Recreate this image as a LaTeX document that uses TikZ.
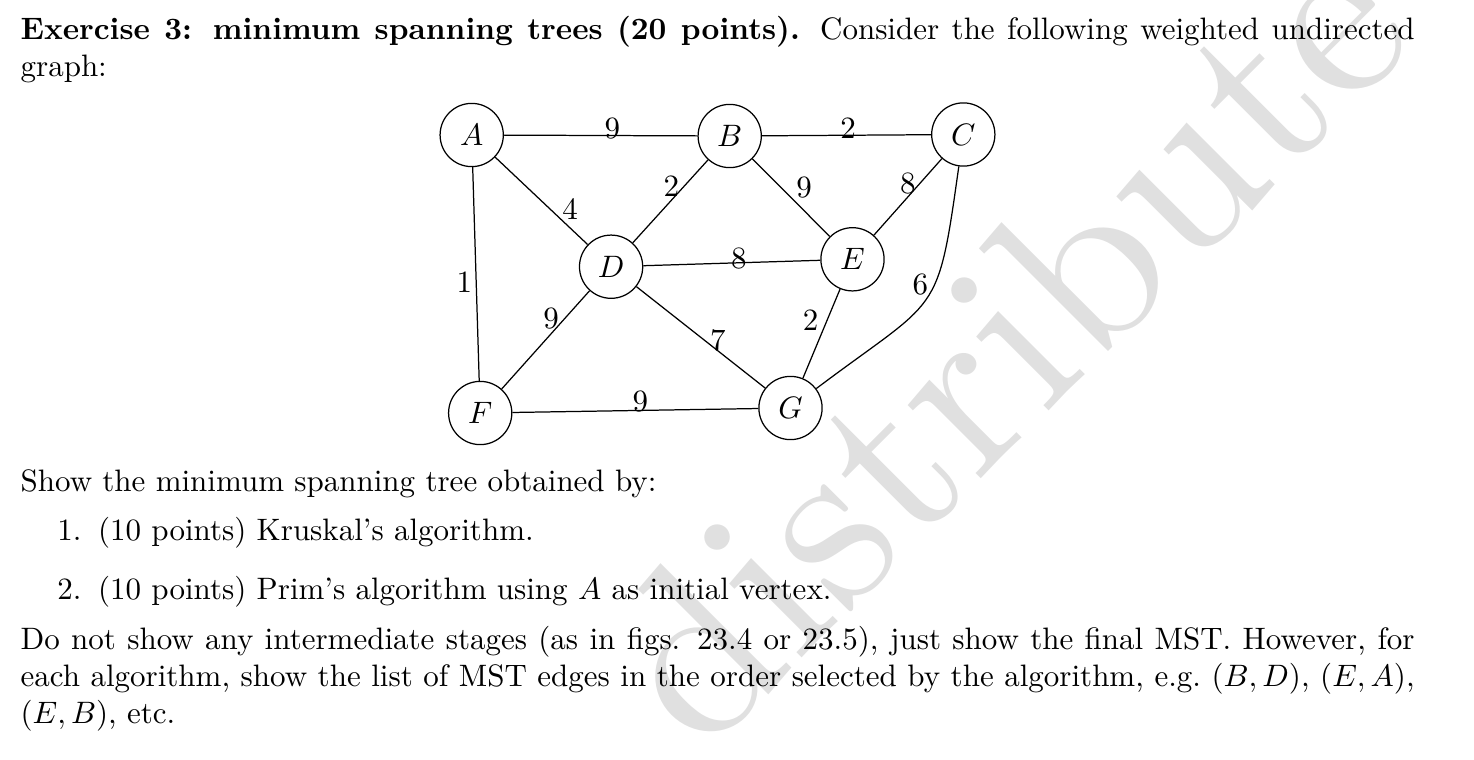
\documentclass[tikz,border=0pt]{standalone}
\usetikzlibrary{positioning}
\begin{document}
\begin{tikzpicture}[x=0.32258pt, y=-0.32258pt,
    vertex/.style={circle, draw, minimum size=20.4pt, inner sep=0pt},
    wt/.style={inner sep=0pt},
    para/.style={anchor=base west, inner sep=0pt, text width=449.7pt, align=justify},
    wmark/.style={text=black!12, rotate=45, scale=7.74, inner sep=0pt}]
  \useasboundingbox (0,0) rectangle (1474,760);
  % watermark
  \begin{scope}
    \clip (0,0) rectangle (1474,760);
    \node[wmark, anchor=base west] (wm) at (699,761) {distribute};
    \node[wmark, anchor=base east] at (wm.base west) {Do not\hspace{.42em}\null};
  \end{scope}
  % text
  \node[para] (title) at (20,39.5) {\baselineskip=14.5pt \textbf{Exercise 3: minimum spanning trees (20 points).} Consider the following weighted undirected\linebreak graph:};
  \node[para] (task) at (20,491.7) {Show the minimum spanning tree obtained by:};
  \node[anchor=base east, inner sep=0pt] (n1) at (82,540.5) {1.};
  \node[anchor=base west, inner sep=0pt] (k1) at (97.5,540.5) {(10 points) Kruskal's algorithm.};
  \node[anchor=base east, inner sep=0pt] (n2) at (82,599) {2.};
  \node[anchor=base west, inner sep=0pt] (k2) at (97.5,599) {(10 points) Prim's algorithm using $A$ as initial vertex.};
  \node[para] (note) at (20,649.3) {\baselineskip=12.5pt Do not show any intermediate stages (as in figs. 23.4 or 23.5), just show the final MST. However, for\linebreak each algorithm, show the list of MST edges in the order selected by the algorithm, e.g.\ $(B,D)$, $(E,A)$,\linebreak $(E,B)$, etc.};
  % graph
  \node[vertex] (A) at (471.7,135) {$A$};
  \node[vertex] (B) at (729.7,136) {$B$};
  \node[vertex] (C) at (963.3,134.5) {$C$};
  \node[vertex] (D) at (611.1,266.7) {$D$};
  \node[vertex] (E) at (852.5,259.3) {$E$};
  \node[vertex] (F) at (480.2,413) {$F$};
  \node[vertex] (G) at (790.5,408) {$G$};
  \draw (A) -- node[wt, pos=.56, above=-1.4pt] {9} (B);
  \draw (B) -- node[wt, pos=.51, above=-1.4pt] {2} (C);
  \draw (A) -- node[wt, pos=.72, above right] {4} (D);
  \draw (D) -- node[wt, pos=.585, above left=-1.3pt] {2} (B);
  \draw (B) -- node[wt, pos=.54, above right=.75pt] {9} (E);
  \draw (C) -- node[wt, pos=.43, above left=-1.65pt] {8} (E);
  \draw (D) -- node[wt, pos=.54, above=-2.2pt] {8} (E);
  \draw (A) -- node[wt, pos=.54, left=1.1pt] {1} (F);
  \draw (D) -- node[wt, pos=.37, above left=-1.07pt] {9} (F);
  \draw (D) -- node[wt, pos=.6, above right=-1.9pt] {7} (G);
  \draw (E) -- node[wt, pos=.35, left=2.6pt] {2} (G);
  \draw (F) -- node[wt, pos=.52, above=-.8pt] {9} (G);
  \draw (C) to[out=-98, in=37, looseness=1.5] node[wt, pos=.47, above left] {6} (G);
\end{tikzpicture}
\end{document}
